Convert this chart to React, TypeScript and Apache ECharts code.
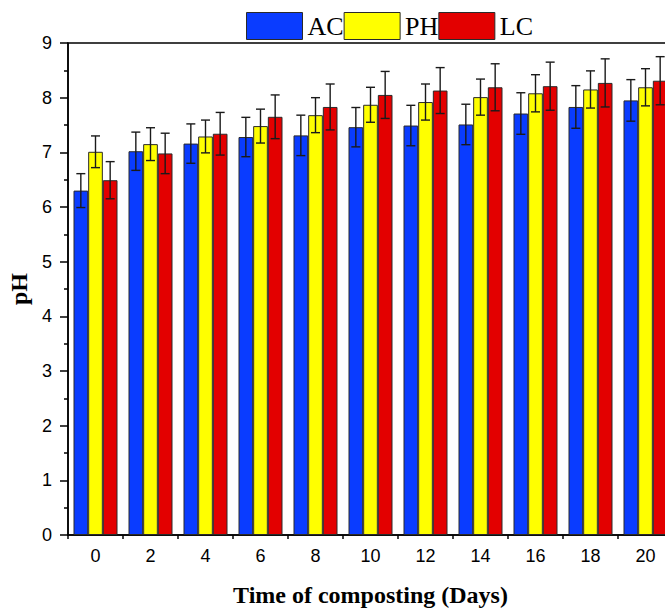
import React, { useEffect, useRef } from "react";
import * as echarts from "echarts";

const days = ["0", "2", "4", "6", "8", "10", "12", "14", "16", "18", "20"];
const seriesNames = ["AC", "PH", "LC"];
const acValues = [6.30, 7.02, 7.16, 7.28, 7.31, 7.46, 7.49, 7.51, 7.71, 7.83, 7.95];
const acErrors = [0.31, 0.35, 0.36, 0.36, 0.37, 0.36, 0.37, 0.37, 0.38, 0.39, 0.38];
const phValues = [7.01, 7.15, 7.29, 7.48, 7.68, 7.87, 7.92, 8.01, 8.08, 8.15, 8.19];
const phErrors = [0.29, 0.30, 0.30, 0.31, 0.32, 0.32, 0.33, 0.33, 0.34, 0.34, 0.34];
const lcValues = [6.49, 6.98, 7.34, 7.65, 7.83, 8.05, 8.13, 8.19, 8.21, 8.27, 8.31];
const lcErrors = [0.34, 0.37, 0.39, 0.40, 0.42, 0.43, 0.42, 0.43, 0.44, 0.44, 0.44];
const colors = ["#0a3cff", "#ffff00", "#e30000"];

const SANS = "Liberation Sans, Arial, sans-serif";
const SERIF = "Liberation Serif, Times New Roman, serif";

export default function App() {
  const ref = useRef<HTMLDivElement>(null);
  useEffect(() => {
    document.body.style.margin = "0";
    if (!ref.current) return;
    const chart = echarts.init(ref.current, undefined, { renderer: "svg" });
    const values = [acValues, phValues, lcValues];
    const errors = [acErrors, phErrors, lcErrors];

    const barSeries = seriesNames.map((name, s) => ({
      name,
      type: "bar",
      data: values[s],
      barGap: "0%",
      barCategoryGap: "20%",
      itemStyle: { color: colors[s], borderColor: "#2a2a2a", borderWidth: 1 },
      z: 2,
    }));

    const errSeries = seriesNames.map((name, s) => ({
      name: name + "-err",
      type: "custom",
      z: 5,
      encode: { x: 0, y: 1 },
      data: values[s].map((v, i) => [i, v, errors[s][i]]),
      renderItem: (params: any, api: any) => {
        const i = api.value(0);
        const v = api.value(1);
        const e = api.value(2);
        const c = api.coord([i, v]);
        const band = api.size([1, 0])[0];
        const barW = (band * 0.8) / 3;
        const x = c[0] + (s - 1) * barW;
        const top = api.coord([i, v + e])[1];
        const bot = api.coord([i, v - e])[1];
        const hw = 4.5;
        const st = { stroke: "#1a1a1a", lineWidth: 1.4 };
        return {
          type: "group",
          children: [
            { type: "line", shape: { x1: x, y1: top, x2: x, y2: bot }, style: st },
            { type: "line", shape: { x1: x - hw, y1: top, x2: x + hw, y2: top }, style: st },
            { type: "line", shape: { x1: x - hw, y1: bot, x2: x + hw, y2: bot }, style: st },
          ],
        };
      },
    }));

    const option: any = {
      animation: false,
      backgroundColor: "#ffffff",
      legend: {
        data: seriesNames,
        left: 241,
        top: 7,
        itemWidth: 56,
        itemHeight: 27,
        itemGap: 0,
        icon: "rect",
        itemStyle: { borderColor: "#2a2a2a", borderWidth: 1 },
        textStyle: { fontFamily: SERIF, fontSize: 26, color: "#000" },
      },
      grid: {
        left: 68,
        top: 43,
        width: 605,
        height: 492,
        containLabel: false,
        outerBoundsMode: "none",
        show: true,
        borderColor: "#000",
        borderWidth: 1.5,
        backgroundColor: "transparent",
      },
      xAxis: [
        {
          type: "category",
          data: days,
          position: "bottom",
          name: "Time of composting (Days)",
          nameLocation: "middle",
          nameGap: 48,
          nameTextStyle: { fontFamily: SERIF, fontWeight: "bold", fontSize: 24, color: "#000" },
          axisLine: { lineStyle: { color: "#000", width: 1.5 } },
          axisTick: { alignWithLabel: true, length: 7, lineStyle: { color: "#000", width: 1.5 } },
          axisLabel: { fontFamily: SANS, fontSize: 18, color: "#000", margin: 12 },
          splitLine: { show: false },
        },
        {
          type: "category",
          data: days,
          position: "bottom",
          axisLine: { show: false },
          axisTick: { show: true, length: 4, lineStyle: { color: "#000", width: 1.5 } },
          axisLabel: { show: false },
          splitLine: { show: false },
        },
      ],
      yAxis: {
        type: "value",
        min: 0,
        max: 9,
        interval: 1,
        name: "pH",
        nameLocation: "middle",
        nameGap: 34,
        nameTextStyle: { fontFamily: SERIF, fontWeight: "bold", fontSize: 24, color: "#000" },
        axisLine: { show: true, lineStyle: { color: "#000", width: 1.5 } },
        axisTick: { show: true, length: 8, lineStyle: { color: "#000", width: 1.5 } },
        minorTick: { show: true, splitNumber: 2, length: 4, lineStyle: { color: "#000", width: 1.5 } },
        axisLabel: { fontFamily: SANS, fontSize: 18, color: "#000", margin: 16 },
        splitLine: { show: false },
        minorSplitLine: { show: false },
      },
      series: [...barSeries, ...errSeries],
    };
    chart.setOption(option);
    return () => chart.dispose();
  }, []);
  return <div ref={ref} style={{ width: 665, height: 610 }} />;
}
